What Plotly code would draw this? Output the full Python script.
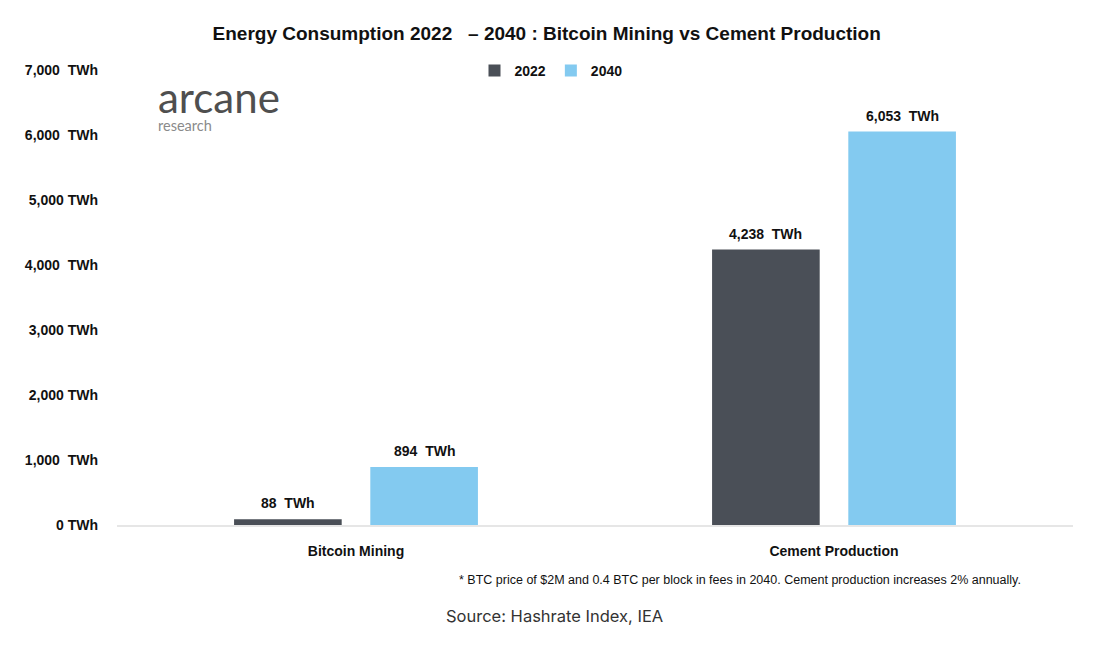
import plotly.graph_objects as go

categories = ["Bitcoin Mining", "Cement Production"]
series_names = ["2022", "2040"]
values_2022 = [88, 4238]
values_2040 = [894, 6053]
labels_2022 = ["88\u00a0\u00a0TWh", "4,238\u00a0\u00a0TWh"]
labels_2040 = ["894\u00a0\u00a0TWh", "6,053\u00a0\u00a0TWh"]
tick_vals = [0, 1000, 2000, 3000, 4000, 5000, 6000, 7000]
tick_text = ["0 TWh", "1,000\u00a0\u00a0TWh", "2,000 TWh", "3,000 TWh",
             "4,000\u00a0\u00a0TWh", "5,000 TWh", "6,000\u00a0\u00a0TWh", "7,000\u00a0\u00a0TWh"]

colors = ["#4a4f57", "#83caf0"]
font_bold = dict(family="Liberation Sans, Arial", size=14, color="#111", weight="bold")

fig = go.Figure()
for name, vals, col in zip(series_names, [values_2022, values_2040], colors):
    fig.add_trace(go.Bar(x=categories, y=vals, name=name, marker=dict(color=col, line=dict(width=0))))

W, H = 1100, 647
ml, mr, mt, mb = 117, 27, 70, 122
plot_w = W - ml - mr
plot_h = H - mt - mb
cat_w = plot_w / len(categories)
bargap = 0.43
slot = cat_w * (1 - bargap) / 2

annotations = []
for i, c in enumerate(categories):
    for j, (vals, labs) in enumerate([(values_2022, labels_2022), (values_2040, labels_2040)]):
        annotations.append(dict(x=c, y=vals[i], xref="x", yref="y", text=labs[i],
                                showarrow=False, yanchor="bottom", xanchor="center",
                                xshift=(j - 0.5) * slot, yshift=6, font=font_bold))

logo_text = ("<span style='font-size:42px;color:#4f4f4f'>arcane</span><br>"
             "<span style='font-size:14.5px;color:#8a8a8a'>research</span>")
annotations += [
    dict(text=logo_text, x=156, y=103, xref="paper", yref="paper", showarrow=False, align="left",
         font=dict(family="Lato", size=13.5, color="#8a8a8a", weight=400), xanchor="left", yanchor="middle"),
    dict(text="* BTC price of $2M and 0.4 BTC per block in fees in 2040. Cement production increases 2% annually.",
         x=457, y=580, xref="paper", yref="paper", showarrow=False,
         font=dict(family="Liberation Sans, Arial", size=12.5, color="#111"), xanchor="left", yanchor="middle"),
    dict(text="Source: Hashrate Index, IEA", x=444, y=616, xref="paper", yref="paper", showarrow=False,
         font=dict(family="Inter", size=16.5, color="#333"), xanchor="left", yanchor="middle"),
]
# convert pixel coordinates for paper-referenced annotations
for a in annotations:
    if a.get("xref") == "paper":
        a["x"] = (a["x"] - ml) / plot_w
        a["y"] = (H - a["y"] - mb) / plot_h

fig.update_layout(
    width=W, height=H,
    margin=dict(l=ml, r=mr, t=mt, b=mb),
    paper_bgcolor="white", plot_bgcolor="white",
    barmode="group", bargap=bargap, bargroupgap=0.21,
    title=dict(text="Energy Consumption 2022\u00a0\u00a0\u00a0– 2040 : Bitcoin Mining vs Cement Production",
               x=0.497, xanchor="center", y=1 - 33 / H, yanchor="middle",
               font=dict(family="Liberation Sans, Arial", size=19, color="#111", weight="bold")),
    legend=dict(orientation="h", x=(551 - ml) / plot_w, xanchor="center", y=(H - 71 - mb) / plot_h,
                yanchor="middle", font=font_bold, itemwidth=30, traceorder="normal",
                bgcolor="rgba(0,0,0,0)"),
    showlegend=True,
    annotations=annotations,
)
fig.update_yaxes(range=[0, 7000], tickvals=tick_vals, ticktext=tick_text, showgrid=False,
                 zeroline=False, showline=False, tickfont=font_bold, ticks="", ticklabelstandoff=18)
fig.update_xaxes(showline=True, linecolor="#e6e6e6", linewidth=2, ticks="", tickfont=font_bold,
                 ticklabelstandoff=12)

fig.write_html("out.html", config={"displayModeBar": False},
               post_script="document.body.style.margin='0';")
